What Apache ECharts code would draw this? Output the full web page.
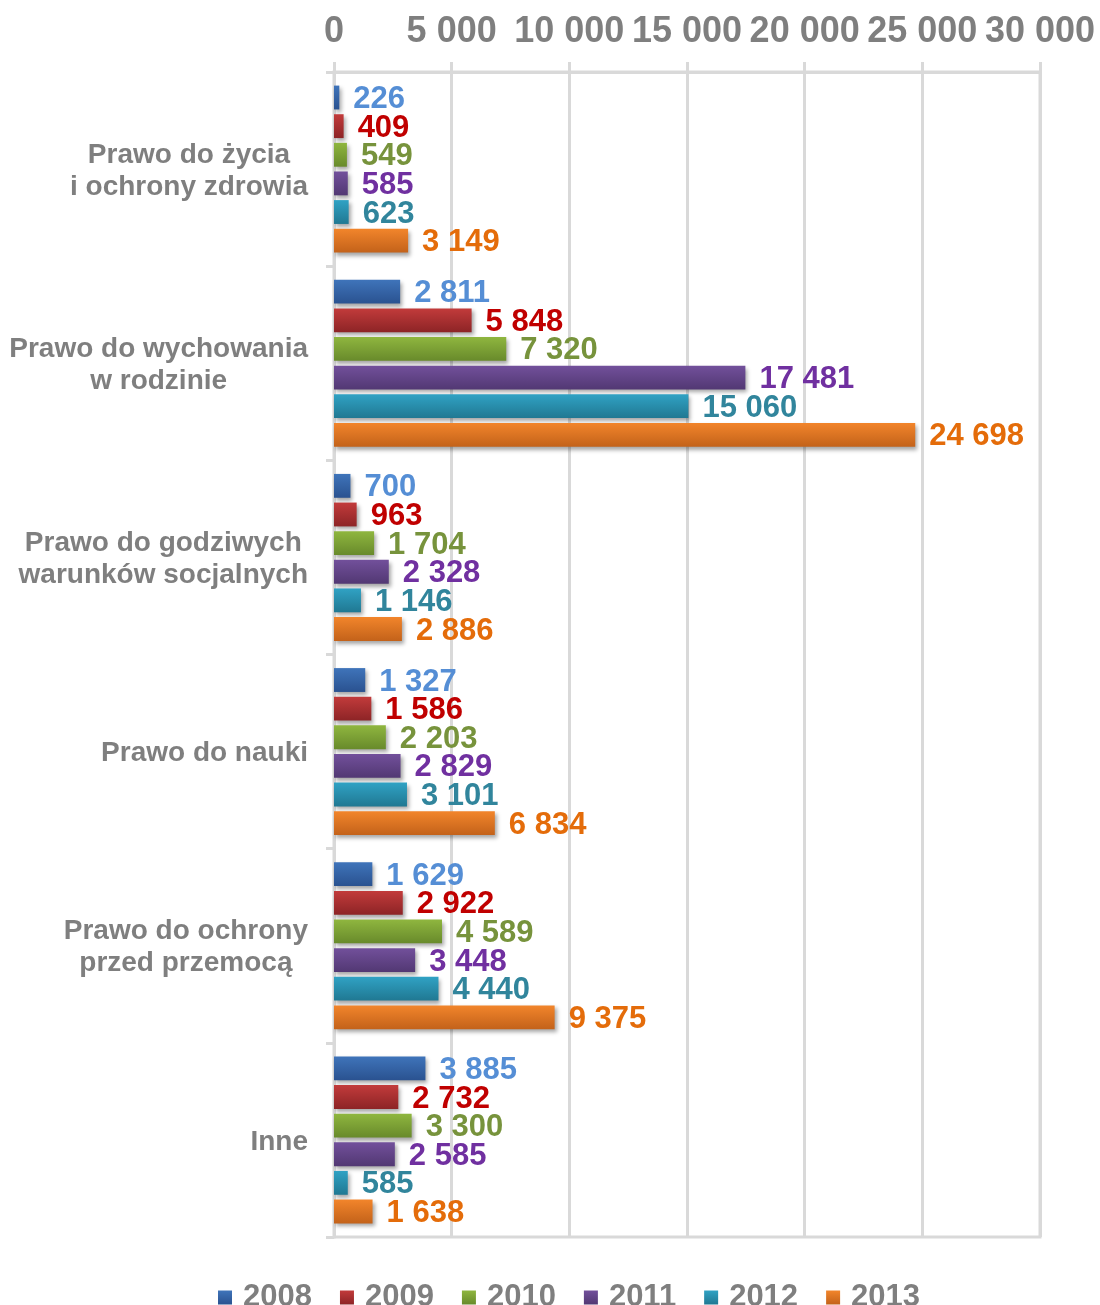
<!DOCTYPE html>
<html>
<head>
<meta charset="utf-8">
<title>Prawa dziecka</title>
<script src="https://cdn.jsdelivr.net/npm/echarts@6/dist/echarts.min.js"></script>
<style>
  html, body { margin: 0; padding: 0; background: #fff; }
  #chart { width: 1100px; height: 1305px; }
</style>
</head>
<body>
<div id="chart"></div>
<script>
// dane
const categories = [
  'Prawo do życia\ni ochrony zdrowia',
  'Prawo do wychowania\nw rodzinie',
  'Prawo do godziwych\nwarunków socjalnych',
  'Prawo do nauki',
  'Prawo do ochrony\nprzed przemocą',
  'Inne'
];
const years = ['2008', '2009', '2010', '2011', '2012', '2013'];
const values2008 = [226, 2811, 700, 1327, 1629, 3885];
const values2009 = [409, 5848, 963, 1586, 2922, 2732];
const values2010 = [549, 7320, 1704, 2203, 4589, 3300];
const values2011 = [585, 17481, 2328, 2829, 3448, 2585];
const values2012 = [623, 15060, 1146, 3101, 4440, 585];
const values2013 = [3149, 24698, 2886, 6834, 9375, 1638];
const xTicks = [0, 5000, 10000, 15000, 20000, 25000, 30000];

const seriesValues = [values2008, values2009, values2010, values2011, values2012, values2013];

// kolory: gradient słupka (góra, dół) i kolor etykiety
const barColors = [
  ['#3f74ba', '#2a5290'],
  ['#c23b3b', '#8d2426'],
  ['#8fb63f', '#688a2b'],
  ['#72509b', '#523873'],
  ['#30a2c4', '#207892'],
  ['#f2852b', '#c3621a']
];
const labelColors = ['#558ED5', '#C00000', '#77933C', '#7030A0', '#31859C', '#E46C0A'];

const gray = '#7f7f7f';
const lineColor = '#d9d9d9';
const font = "'Liberation Sans', Arial, sans-serif";

// 12345 -> "12 345"
const fmt = (v) => String(v).replace(/\B(?=(\d{3})+(?!\d))/g, ' ');

const myChart = echarts.init(document.getElementById('chart'));

const series = years.map((year, i) => ({
  name: year,
  type: 'bar',
  data: seriesValues[i],
  barGap: '20%',
  barCategoryGap: '14%',
  itemStyle: {
    color: new echarts.graphic.LinearGradient(0, 0, 0, 1, [
      { offset: 0, color: barColors[i][0] },
      { offset: 1, color: barColors[i][1] }
    ]),
    shadowColor: 'rgba(0,0,0,0.35)',
    shadowBlur: 4,
    shadowOffsetX: 2,
    shadowOffsetY: 3
  },
  label: {
    show: true,
    position: 'right',
    distance: 14,
    offset: [0, 2],
    color: labelColors[i],
    fontFamily: font,
    fontWeight: 'bold',
    fontSize: 31,
    formatter: (p) => fmt(p.value)
  }
}));

const option = {
  animation: false,
  textStyle: { fontFamily: font },
  grid: {
    left: 334,
    right: 60,
    top: 72,
    bottom: 68,
    containLabel: false,
    outerBoundsMode: 'none',
    show: true,
    borderColor: lineColor,
    borderWidth: 3
  },
  legend: {
    top: 1277,
    left: 213,
    itemWidth: 14,
    itemHeight: 14,
    itemGap: 28,
    icon: 'rect',
    textStyle: {
      color: gray,
      fontFamily: font,
      fontWeight: 'bold',
      fontSize: 31,
      padding: [0, 0, 0, 6]
    },
    data: years
  },
  xAxis: {
    type: 'value',
    position: 'top',
    min: xTicks[0],
    max: xTicks[xTicks.length - 1],
    interval: xTicks[1] - xTicks[0],
    axisLine: { show: true, lineStyle: { color: lineColor, width: 3 } },
    axisTick: { show: true, length: 10, lineStyle: { color: lineColor, width: 3 } },
    splitLine: { show: true, lineStyle: { color: lineColor, width: 3 } },
    axisLabel: {
      color: gray,
      fontFamily: font,
      fontWeight: 'bold',
      fontSize: 36,
      margin: 22,
      formatter: (v) => fmt(v)
    }
  },
  yAxis: {
    type: 'category',
    inverse: true,
    data: categories,
    axisLine: { show: true, lineStyle: { color: lineColor, width: 3 } },
    axisTick: { show: true, length: 8, lineStyle: { color: lineColor, width: 3 } },
    axisLabel: {
      margin: 26,
      align: 'right',
      formatter: (v) => v.split('\n').map((s) => '{c|' + s + '}').join('\n'),
      rich: {
        c: {
          align: 'center',
          color: gray,
          fontFamily: font,
          fontWeight: 'bold',
          fontSize: 28,
          lineHeight: 32,
          padding: [4, 0, 0, 0]
        }
      }
    }
  },
  series: series
};

option && myChart.setOption(option);
</script>
</body>
</html>
